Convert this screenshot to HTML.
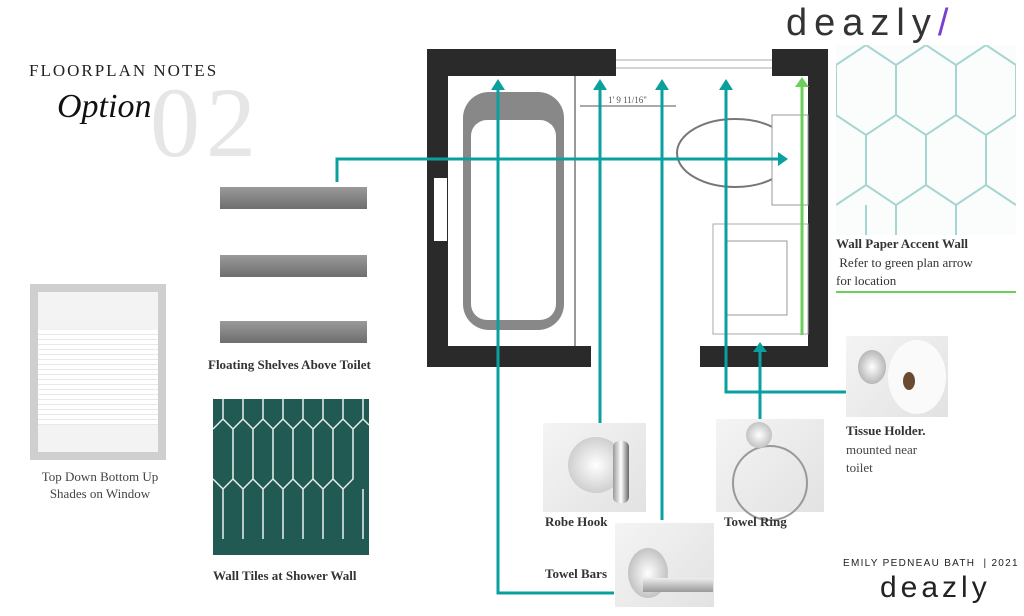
<html><head><style>
body{margin:0;width:1024px;height:616px;background:#fff;position:relative;overflow:hidden;font-family:"Liberation Serif",serif}
.a{position:absolute}
.lbl{position:absolute;font-weight:bold;font-size:13px;color:#333}
.img{position:absolute;background:linear-gradient(135deg,#f4f4f4,#e2e2e2)}
.shelf{position:absolute;left:220px;width:147px;height:22px;background:linear-gradient(#9a9a9a,#6e6e6e);}
</style></head><body>
<div class="a" style="left:29px;top:61px;font-size:17px;letter-spacing:2px;color:#222">FLOORPLAN NOTES</div>
<div class="a" style="left:150px;top:65px;font-size:100px;color:#e6e6e6;letter-spacing:6px">02</div>
<div class="a" style="left:57px;top:88px;font-size:34px;font-style:italic;color:#111">Option</div>
<div class="a" style="left:786px;top:0px;font-family:'Liberation Sans',sans-serif;font-size:38px;color:#333;letter-spacing:7px;line-height:46px">deazly<span style="color:#7a3fd0">/</span></div>

<!-- wallpaper -->
<svg class="a" style="left:836px;top:45px" width="180" height="190"><rect width="180" height="190" fill="#fbfdfc"/>
<g stroke="#a6d6d1" stroke-width="2" fill="none"><path d="M0 20 L30 0 L60 20 L60 70 L30 90 L0 70 Z M60 20 L90 0 L120 20 L120 70 L90 90 L60 70 M120 20 L150 0 L180 20 L180 70 L150 90 L120 70 M30 90 L30 140 L60 160 L90 140 L90 90 M90 140 L120 160 L150 140 L150 90 M150 140 L180 160 M0 160 L30 140 M30 190 L30 160 M60 160 L60 190 M120 160 L120 190"/></g></svg>
<div class="lbl" style="left:836px;top:236px">Wall Paper Accent Wall</div>
<div class="a" style="left:836px;top:254px;font-size:13px;color:#333;line-height:18px">&nbsp;Refer to green plan arrow<br>for location</div>
<div class="a" style="left:836px;top:291px;width:180px;height:2px;background:#6ccf5c"></div>

<!-- shelves -->
<div class="shelf" style="top:187px"></div><div class="shelf" style="top:255px"></div><div class="shelf" style="top:321px"></div>
<div class="lbl" style="left:208px;top:357px">Floating Shelves Above Toilet</div>

<!-- shade -->
<div class="a" style="left:30px;top:284px;width:136px;height:176px;background:#cfcfcf"></div>
<div class="a" style="left:38px;top:292px;width:120px;height:160px;background:#f3f3f3"></div>
<div class="a" style="left:38px;top:330px;width:120px;height:95px;background:repeating-linear-gradient(#fff 0 4px,#e8e8e8 4px 5px)"></div>
<div class="a" style="left:26px;top:468px;width:148px;text-align:center;font-size:13px;color:#444;line-height:17px">Top Down Bottom Up<br>Shades on Window</div>

<!-- tiles -->
<svg class="a" style="left:213px;top:399px" width="156" height="156"><rect width="156" height="156" fill="#205a52"/>
<g stroke="#e8efee" stroke-width="1.5" fill="none"><path d="M0 30 L10 20 L10 -5 M20 30 L10 20 M20 30 L20 80 L10 90 L0 80 M20 30 L30 20 L40 30 L40 80 L30 90 L20 80 M40 30 L50 20 L60 30 L60 80 L50 90 L40 80 M60 30 L70 20 L80 30 L80 80 L70 90 L60 80 M80 30 L90 20 L100 30 L100 80 L90 90 L80 80 M100 30 L110 20 L120 30 L120 80 L110 90 L100 80 M120 30 L130 20 L140 30 L140 80 L130 90 L120 80 M140 30 L150 20 L156 26 M10 90 L10 140 M30 90 L30 140 M50 90 L50 140 M70 90 L70 140 M90 90 L90 140 M110 90 L110 140 M130 90 L130 140 M150 90 L150 140 M30 20 L30 0 M50 20 L50 0 M70 20 L70 0 M90 20 L90 0 M110 20 L110 0 M130 20 L130 0 M150 20 L150 0"/></g></svg>
<div class="lbl" style="left:213px;top:568px">Wall Tiles at Shower Wall</div>

<!-- floorplan -->
<svg class="a" style="left:420px;top:40px" width="412" height="340">
<rect x="7" y="9" width="401" height="318" fill="#fff"/>
<g fill="#2a2a2a"><rect x="7" y="9" width="189" height="27"/><rect x="352" y="9" width="56" height="27"/><rect x="7" y="9" width="21" height="318"/><rect x="388" y="9" width="20" height="318"/><rect x="7" y="306" width="164" height="21"/><rect x="280" y="306" width="128" height="21"/></g>
<rect x="14" y="138" width="13" height="63" fill="#fff"/>
<line x1="196" y1="20" x2="352" y2="20" stroke="#aaa"/><line x1="196" y1="28" x2="352" y2="28" stroke="#aaa"/>
<rect x="43" y="52" width="101" height="238" rx="26" fill="#888"/><rect x="51" y="80" width="85" height="200" rx="16" fill="#fff"/>
<line x1="155" y1="36" x2="155" y2="306" stroke="#999" stroke-width="2"/>
<ellipse cx="315" cy="113" rx="58" ry="34" fill="#fff" stroke="#777" stroke-width="2"/>
<rect x="352" y="75" width="36" height="90" fill="#fff" stroke="#999"/>
<rect x="293" y="184" width="95" height="110" fill="#fff" stroke="#aaa"/><rect x="307" y="201" width="60" height="74" fill="#fff" stroke="#999"/>
<text x="188" y="63" font-size="9" fill="#555">1' 9 11/16"</text>
<line x1="160" y1="66" x2="256" y2="66" stroke="#555"/>
</svg>

<!-- connectors -->
<svg class="a" style="left:0;top:0" width="1024" height="616">
<g stroke="#0aa0a0" stroke-width="3" fill="none">
<path d="M337 182 V159 H780"/>
<path d="M498 88 V593 H614"/>
<path d="M600 88 V423"/>
<path d="M662 88 V520"/>
<path d="M726 88 V392 H846"/>
<path d="M760 350 V419"/>
</g>
<g fill="#0aa0a0">
<path d="M491 90 L498 79 L505 90Z"/><path d="M593 90 L600 79 L607 90Z"/><path d="M655 90 L662 79 L669 90Z"/><path d="M719 90 L726 79 L733 90Z"/><path d="M753 352 L760 342 L767 352Z"/><path d="M778 152 L788 159 L778 166Z"/>
</g>
<path d="M802 335 V84" stroke="#6ccf5c" stroke-width="3"/><path d="M795 87 L802 77 L809 87Z" fill="#6ccf5c"/>
</svg>

<!-- hardware -->
<div class="img" style="left:543px;top:423px;width:103px;height:89px"><div class="a" style="left:25px;top:14px;width:56px;height:56px;border-radius:50%;background:radial-gradient(#fff,#bbb)"></div><div class="a" style="left:70px;top:18px;width:16px;height:62px;border-radius:6px;background:linear-gradient(90deg,#999,#fff,#666)"></div></div>
<div class="lbl" style="left:545px;top:514px">Robe Hook</div>
<div class="img" style="left:615px;top:523px;width:99px;height:84px"><div class="a" style="left:13px;top:25px;width:40px;height:50px;border-radius:50%;background:radial-gradient(#fff,#aaa)"></div><div class="a" style="left:28px;top:55px;width:70px;height:14px;background:linear-gradient(#eee,#999)"></div></div>
<div class="lbl" style="left:545px;top:566px">Towel Bars</div>
<div class="img" style="left:716px;top:419px;width:108px;height:93px"><div class="a" style="left:16px;top:26px;width:72px;height:72px;border-radius:50%;border:2px solid #999"></div><div class="a" style="left:30px;top:3px;width:26px;height:26px;border-radius:50%;background:radial-gradient(#fff,#aaa)"></div></div>
<div class="lbl" style="left:724px;top:514px">Towel Ring</div>
<div class="img" style="left:846px;top:336px;width:102px;height:81px"><div class="a" style="left:42px;top:4px;width:58px;height:74px;border-radius:50%;background:#fafafa"></div><div class="a" style="left:57px;top:36px;width:12px;height:18px;border-radius:50%;background:#6b4a32"></div><div class="a" style="left:12px;top:14px;width:28px;height:34px;border-radius:50%;background:radial-gradient(#fff,#999)"></div></div>
<div class="lbl" style="left:846px;top:423px">Tissue Holder.</div>
<div class="a" style="left:846px;top:441px;font-size:13px;color:#444;line-height:18px">mounted near<br>toilet</div>

<div class="a" style="left:843px;top:558px;font-family:'Liberation Sans',sans-serif;font-size:10px;letter-spacing:1.3px;color:#222">EMILY PEDNEAU BATH &nbsp;| 2021</div>
<div class="a" style="left:880px;top:571px;font-family:'Liberation Sans',sans-serif;font-size:30px;color:#222;letter-spacing:4px;line-height:34px">deazly</div>
</body></html>
